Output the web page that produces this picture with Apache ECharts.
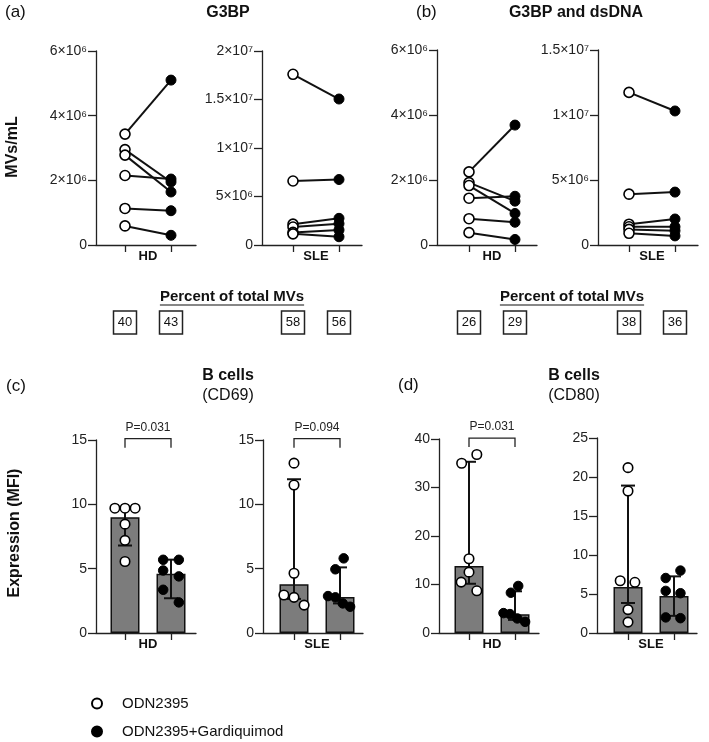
<!DOCTYPE html>
<html><head><meta charset="utf-8">
<script src="https://cdn.jsdelivr.net/npm/echarts@6/dist/echarts.min.js"></script>
<style>html,body{margin:0;padding:0;background:#fff}#c{width:709px;height:742px}</style>
</head><body><div id="c"></div><script>
// ---------- data ----------
const groups = ['HD', 'SLE'];
const legendNames = ['ODN2395', 'ODN2395+Gardiquimod'];

// (a) G3BP MVs/mL
const g3bpHdOpen    = [3.43e6, 2.95e6, 2.78e6, 2.15e6, 1.13e6, 0.59e6];
const g3bpHdClosed  = [5.10e6, 1.95e6, 1.64e6, 2.04e6, 1.06e6, 0.30e6];
const g3bpSleOpen   = [17.6e6, 6.6e6, 2.15e6, 1.85e6, 1.3e6, 1.15e6];
const g3bpSleClosed = [15.05e6, 6.75e6, 2.75e6, 2.2e6, 1.55e6, 0.85e6];
// (b) G3BP and dsDNA MVs/mL
const dsHdOpen    = [2.25e6, 1.92e6, 1.83e6, 1.44e6, 0.81e6, 0.38e6];
const dsHdClosed  = [3.69e6, 1.35e6, 0.97e6, 1.5e6, 0.70e6, 0.17e6];
const dsSleOpen   = [11.74e6, 3.91e6, 1.6e6, 1.4e6, 1.2e6, 0.9e6];
const dsSleClosed = [10.31e6, 4.07e6, 2.0e6, 1.4e6, 1.1e6, 0.7e6];
// percent of total MVs
const pctG3bp  = [40, 43, 58, 56];
const pctDsDNA = [26, 29, 38, 36];

// (c) CD69 MFI
const cd69HdOpen     = [9.7, 9.7, 9.7, 8.46, 7.2, 5.56];
const cd69HdOpenJit  = [-0.22, 0, 0.22, 0, 0, 0];
const cd69HdClosed   = [5.69, 5.69, 4.86, 4.4, 3.36, 2.38];
const cd69HdClosedJit= [-0.17, 0.17, -0.17, 0.17, -0.17, 0.17];
const cd69HdBars     = [9.0, 4.6];
const cd69HdErr      = [[6.8, 9.7], [2.7, 5.7]];
const cd69SleOpen    = [13.2, 11.5, 4.64, 2.95, 2.77, 2.17];
const cd69SleOpenJit = [0, 0, 0, -0.22, 0, 0.22];
const cd69SleClosed  = [5.8, 4.95, 2.87, 2.77, 2.3, 2.04];
const cd69SleClosedJit = [0.08, -0.1, -0.26, -0.1, 0.06, 0.22];
const cd69SleBars    = [3.78, 2.8];
const cd69SleErr     = [[2.65, 11.95], [2.3, 5.1]];
// (d) CD80 MFI
const cd80HdOpen     = [36.8, 35.0, 15.3, 12.55, 10.5, 8.7];
const cd80HdOpenJit  = [0.17, -0.16, 0, 0, -0.17, 0.17];
const cd80HdClosed   = [9.7, 8.3, 4.1, 3.9, 3.0, 2.3];
const cd80HdClosedJit= [0.07, -0.09, -0.25, -0.11, 0.05, 0.22];
const cd80HdBars     = [13.8, 3.85];
const cd80HdErr      = [[10.15, 35.3], [2.7, 8.6]];
const cd80SleOpen    = [21.2, 18.2, 6.7, 6.5, 3.0, 1.4];
const cd80SleOpenJit = [0, 0, -0.17, 0.15, 0, 0];
const cd80SleClosed  = [8.0, 7.05, 5.4, 5.1, 2.0, 1.9];
const cd80SleClosedJit = [0.14, -0.18, -0.18, 0.14, -0.18, 0.14];
const cd80SleBars    = [5.9, 4.75];
const cd80SleErr     = [[3.85, 18.9], [2.2, 7.26]];

// p-value annotations (panel index, text, bracket level)
const pPanels = [4, 5, 6];
const pTexts  = ['P=0.031', 'P=0.094', 'P=0.031'];
const pLevels = [15.1, 15.1, 40.2];

// y axis tick settings per panel
const yMax      = [6e6, 2e7, 6e6, 1.5e7, 15, 15, 40, 25];
const yInterval = [2e6, 5e6, 2e6, 5e6, 5, 5, 10, 5];

// ---------- layout ----------
const FONT = '"Liberation Sans", Arial, Helvetica, sans-serif';
const UNIT = 46, W = 100;
const layout = [
  {L: 96,  top: 51,  bottom: 245, off: 29},
  {L: 262, top: 51,  bottom: 245, off: 31},
  {L: 437, top: 50,  bottom: 245, off: 32},
  {L: 598, top: 50,  bottom: 245, off: 31},
  {L: 96,  top: 440, bottom: 633, off: 29},
  {L: 263, top: 440, bottom: 633, off: 31},
  {L: 439, top: 439, bottom: 633, off: 30},
  {L: 597, top: 438, bottom: 633, off: 31}
];
const AX = '#222';
const SUP = {'0':'⁰','1':'¹','2':'²','3':'³','4':'⁴','5':'⁵','6':'⁶','7':'⁷','8':'⁸','9':'⁹'};
function sciLabel(v) {
  if (v === 0) return '0';
  const e = Math.floor(Math.log10(v) + 1e-9);
  const m = +(v / Math.pow(10, e)).toFixed(1);
  return m + '×10' + String(e).split('').map(c => SUP[c]).join('');
}

const legendBase = {orient: 'vertical', left: 91, padding: 0, itemWidth: 40, itemHeight: 10,
  selectedMode: false, textStyle: {fontSize: 15, color: '#111', fontFamily: FONT}};
const option = {
  animation: false,
  backgroundColor: '#fff',
  textStyle: {fontFamily: FONT},
  grid: [], xAxis: [], yAxis: [], series: [],
  legend: [
    Object.assign({}, legendBase, {top: 696, data: [legendNames[0]]}),
    Object.assign({}, legendBase, {top: 724, data: [legendNames[1]]})
  ]
};

layout.forEach((g, i) => {
  const xmin = 1 - g.off / UNIT;
  option.grid.push({left: g.L, top: g.top, width: W, height: g.bottom - g.top, outerBoundsMode: 'none', containLabel: false});
  option.xAxis.push({
    gridIndex: i, type: 'value', min: xmin, max: xmin + W / UNIT,
    axisLine: {show: true, onZero: false, lineStyle: {color: AX, width: 1.3}},
    axisTick: {show: true, customValues: [1, 2], length: 7, lineStyle: {color: AX, width: 1.3}},
    axisLabel: {customValues: [1.5], formatter: () => groups[i % 2], fontWeight: 'bold', fontSize: 13, color: '#111', margin: 5, fontFamily: FONT},
    splitLine: {show: false}
  });
  option.yAxis.push({
    gridIndex: i, type: 'value', min: 0, max: yMax[i], interval: yInterval[i],
    axisLine: {show: true, lineStyle: {color: AX, width: 1.3}},
    axisTick: {show: true, length: 8, lineStyle: {color: AX, width: 1.3}},
    axisLabel: {fontSize: 14, color: '#222', margin: 9, fontFamily: FONT,
      formatter: i < 4 ? sciLabel : (v => String(v))},
    splitLine: {show: false}
  });
});

const openStyle = {color: '#fff', borderColor: '#000', borderWidth: 1.6, opacity: 1};
const closedStyle = {color: '#000', borderColor: '#000', borderWidth: 1, opacity: 1};

// MV paired panels
const mvOpen = [g3bpHdOpen, g3bpSleOpen, dsHdOpen, dsSleOpen];
const mvClosed = [g3bpHdClosed, g3bpSleClosed, dsHdClosed, dsSleClosed];
mvOpen.forEach((op, i) => {
  const cl = mvClosed[i];
  option.series.push({
    type: 'custom', xAxisIndex: i, yAxisIndex: i, z: 3, silent: true,
    data: op.map((v, k) => [1, v, 2, cl[k]]),
    encode: {x: [0, 2], y: [1, 3]},
    renderItem: (p, api) => {
      const a = api.coord([api.value(0), api.value(1)]);
      const b = api.coord([api.value(2), api.value(3)]);
      return {type: 'line', shape: {x1: a[0], y1: a[1], x2: b[0], y2: b[1]}, style: {stroke: '#111', lineWidth: 2}};
    }
  });
  option.series.push({type: 'scatter', name: legendNames[0], xAxisIndex: i, yAxisIndex: i, z: 5,
    symbol: 'circle', symbolSize: 10, itemStyle: openStyle, data: op.map(v => [1, v])});
  option.series.push({type: 'scatter', name: legendNames[1], xAxisIndex: i, yAxisIndex: i, z: 5,
    symbol: 'circle', symbolSize: 10, itemStyle: closedStyle, data: cl.map(v => [2, v])});
});

// bar panels
const bOpen = [cd69HdOpen, cd69SleOpen, cd80HdOpen, cd80SleOpen];
const bOpenJit = [cd69HdOpenJit, cd69SleOpenJit, cd80HdOpenJit, cd80SleOpenJit];
const bClosed = [cd69HdClosed, cd69SleClosed, cd80HdClosed, cd80SleClosed];
const bClosedJit = [cd69HdClosedJit, cd69SleClosedJit, cd80HdClosedJit, cd80SleClosedJit];
const bBars = [cd69HdBars, cd69SleBars, cd80HdBars, cd80SleBars];
const bErr = [cd69HdErr, cd69SleErr, cd80HdErr, cd80SleErr];
bOpen.forEach((op, j) => {
  const i = j + 4;
  option.series.push({type: 'bar', xAxisIndex: i, yAxisIndex: i, z: 2, silent: true, barWidth: 29,
    itemStyle: {color: '#7c7c7c', borderColor: '#111', borderWidth: 1.5, opacity: 1},
    data: bBars[j].map((v, k) => [k + 1, v])});
  option.series.push({
    type: 'custom', xAxisIndex: i, yAxisIndex: i, z: 3, silent: true,
    data: bErr[j].map((e, k) => [k + 1, e[0], e[1]]),
    encode: {x: 0, y: [1, 2]},
    renderItem: (p, api) => {
      const lo = api.coord([api.value(0), api.value(1)]);
      const hi = api.coord([api.value(0), api.value(2)]);
      const hw = 7, st = {stroke: '#111', lineWidth: 2};
      return {type: 'group', children: [
        {type: 'line', shape: {x1: lo[0], y1: lo[1], x2: hi[0], y2: hi[1]}, style: st},
        {type: 'line', shape: {x1: lo[0] - hw, y1: lo[1], x2: lo[0] + hw, y2: lo[1]}, style: st},
        {type: 'line', shape: {x1: hi[0] - hw, y1: hi[1], x2: hi[0] + hw, y2: hi[1]}, style: st}
      ]};
    }
  });
  option.series.push({type: 'scatter', name: legendNames[0], xAxisIndex: i, yAxisIndex: i, z: 5,
    symbol: 'circle', symbolSize: 9.5, itemStyle: openStyle, data: op.map((v, k) => [1 + bOpenJit[j][k], v])});
  option.series.push({type: 'scatter', name: legendNames[1], xAxisIndex: i, yAxisIndex: i, z: 5,
    symbol: 'circle', symbolSize: 9.5, itemStyle: closedStyle, data: bClosed[j].map((v, k) => [2 + bClosedJit[j][k], v])});
});

// p-value brackets
pPanels.forEach((pi, k) => {
  option.series.push({
    type: 'custom', xAxisIndex: pi, yAxisIndex: pi, z: 4, silent: true, clip: false,
    data: [[1, pLevels[k], 2]],
    encode: {x: [0, 2], y: 1},
    renderItem: (p, api) => {
      const a = api.coord([api.value(0), api.value(1)]);
      const b = api.coord([api.value(2), api.value(1)]);
      const leg = 9;
      return {type: 'group', children: [
        {type: 'polyline', shape: {points: [[a[0], a[1] + leg], [a[0], a[1]], [b[0], b[1]], [b[0], b[1] + leg]]},
          style: {fill: null, stroke: '#222', lineWidth: 1.3}},
        {type: 'text', x: (a[0] + b[0]) / 2, y: a[1] - 5,
          style: {text: pTexts[k], fontSize: 12, fontFamily: FONT, fill: '#222', align: 'center', verticalAlign: 'bottom'}}
      ]};
    }
  });
});

const chart = echarts.init(document.getElementById('c'));
chart.setOption(option);

// ---------- annotations ----------
const graphic = [];
function txt(t, x, y, size, weight, align, extra) {
  graphic.push(Object.assign({type: 'text', x: x, y: y, z: 10,
    style: {text: t, fontSize: size, fontWeight: weight, fontFamily: FONT, fill: '#111', align: align, verticalAlign: 'top'}}, extra || {}));
}
txt('(a)', 5, 4, 17, 'normal', 'left');
txt('G3BP', 228, 5, 16, 'bold', 'center');
txt('(b)', 416, 4, 17, 'normal', 'left');
txt('G3BP and dsDNA', 576, 5, 16, 'bold', 'center');
txt('(c)', 6, 378, 17, 'normal', 'left');
txt('B cells', 228, 368, 16, 'bold', 'center');
txt('(CD69)', 228, 388, 16, 'normal', 'center');
txt('(d)', 398, 377, 17, 'normal', 'left');
txt('B cells', 574, 368, 16, 'bold', 'center');
txt('(CD80)', 574, 388, 16, 'normal', 'center');
graphic.push({type: 'text', x: 13, y: 147, rotation: Math.PI / 2, z: 10,
  style: {text: 'MVs/mL', fontSize: 16, fontWeight: 'bold', fontFamily: FONT, fill: '#111', align: 'center', verticalAlign: 'middle'}});
graphic.push({type: 'text', x: 15, y: 533, rotation: Math.PI / 2, z: 10,
  style: {text: 'Expression (MFI)', fontSize: 16, fontWeight: 'bold', fontFamily: FONT, fill: '#111', align: 'center', verticalAlign: 'middle'}});

// percent boxes, placed at the data columns of the panels above
const ctx = document.createElement('canvas').getContext('2d');
ctx.font = 'bold 15px ' + FONT;
const pctTitle = 'Percent of total MVs';
const tw = ctx.measureText(pctTitle).width;
[[0, 1, pctG3bp], [2, 3, pctDsDNA]].forEach(([pa, pb, vals]) => {
  const xs = [chart.convertToPixel({gridIndex: pa}, [1, 0])[0], chart.convertToPixel({gridIndex: pa}, [2, 0])[0],
              chart.convertToPixel({gridIndex: pb}, [1, 0])[0], chart.convertToPixel({gridIndex: pb}, [2, 0])[0]];
  const cx = (xs[0] + xs[3]) / 2;
  graphic.push({type: 'text', x: cx, y: 297, z: 10,
    style: {text: pctTitle, fontSize: 15, fontWeight: 'bold', fontFamily: FONT, fill: '#111', align: 'center', verticalAlign: 'middle'}});
  graphic.push({type: 'line', z: 10, shape: {x1: cx - tw / 2, y1: 305, x2: cx + tw / 2, y2: 305}, style: {stroke: '#111', lineWidth: 1.2}});
  xs.forEach((x, k) => {
    graphic.push({type: 'rect', z: 10, shape: {x: x - 11.5, y: 311, width: 23, height: 23}, style: {fill: '#fff', stroke: '#222', lineWidth: 1.5}});
    graphic.push({type: 'text', x: x, y: 322.5, z: 11,
      style: {text: String(vals[k]), fontSize: 13, fontFamily: FONT, fill: '#111', align: 'center', verticalAlign: 'middle'}});
  });
});
chart.setOption({graphic: graphic});
</script></body></html>
